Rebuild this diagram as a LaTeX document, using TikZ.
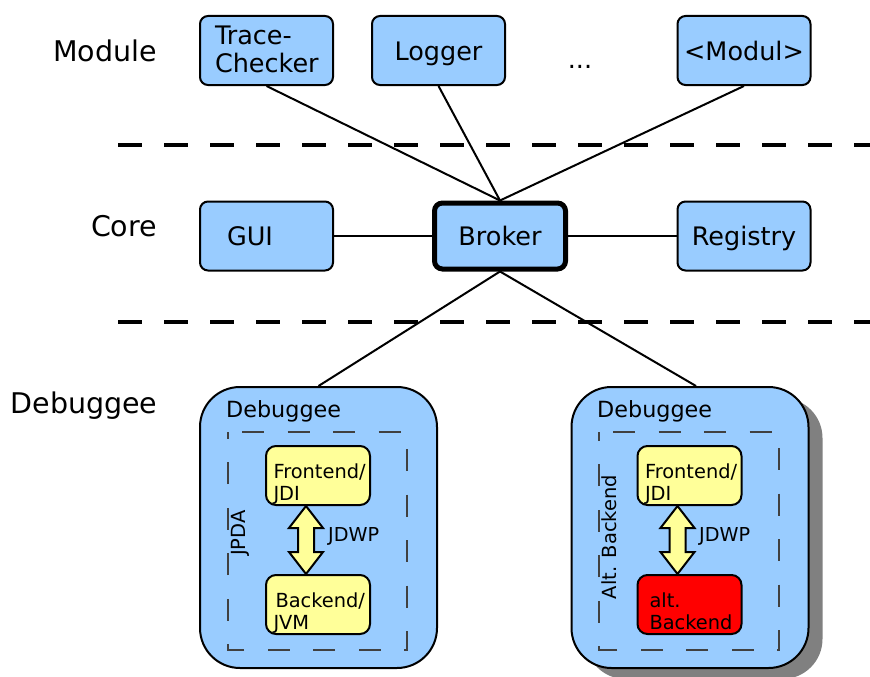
\documentclass[tikz,border=0pt]{standalone}
\usepackage{fontspec}
\setmainfont{DejaVu Sans}
\usetikzlibrary{shadows}
\definecolor{boxblue}{HTML}{99CCFF}
\definecolor{boxyellow}{HTML}{FFFF99}
\definecolor{boxred}{HTML}{FF0000}
\definecolor{shadowgray}{HTML}{808080}
\definecolor{dashgray}{HTML}{404040}

\begin{document}
\begin{tikzpicture}[x=1pt,y=-1pt,
  layerlabel/.style={font=\fontsize{28.5}{33}\selectfont, inner sep=0pt, anchor=base},
  layerrule/.style={line width=3.5pt, dash pattern=on 24pt off 22pt},
  comp/.style={draw=black, line width=2pt, fill=boxblue, rounded corners=8pt,
    minimum width=133pt, minimum height=69pt, inner sep=0pt,
    text height=19pt, text depth=0pt,
    font=\fontsize{25.5}{28}\selectfont},
  twoline/.style={text height=18pt, text depth=29pt, align=left},
  brokerbox/.style={comp, line width=5pt, minimum width=131pt, minimum height=66pt},
  conn/.style={line width=2pt},
  hostbox/.style={draw=black, line width=2pt, fill=boxblue, rounded corners=40pt,
    minimum width=237pt, minimum height=281pt, inner sep=0pt},
  hostshadow/.style={drop shadow={shadow xshift=14pt, shadow yshift=-11pt,
    fill=shadowgray, opacity=1}},
  hosttitle/.style={font=\fontsize{22.3}{26}\selectfont, inner sep=0pt, anchor=base west},
  groupframe/.style={draw=dashgray, line width=1.3pt,
    dash pattern=on 22pt off 23.5pt, dash phase=31.5pt},
  grouplabel/.style={font=\fontsize{19.5}{22}\selectfont, inner sep=0pt, rotate=90,
    text height=14pt, text depth=0pt},
  part/.style={draw=black, line width=2pt, rounded corners=10pt,
    minimum width=104pt, minimum height=59pt, inner sep=0pt,
    text width=89pt, align=left, text height=15pt, text depth=10pt,
    font=\fontsize{19.4}{22}\selectfont},
  bigarrow/.style={draw=black, line width=2pt, fill=boxyellow, line join=miter},
  protolabel/.style={font=\fontsize{19.2}{22}\selectfont, inner sep=0pt, anchor=base west}]

\useasboundingbox (0,0) rectangle (870,677);

% layer names
\node[layerlabel] (lmod)  at (105,62)  {Module};
\node[layerlabel] (lcore) at (124,236) {Core};
\node[layerlabel] (ldbg)  at (84,413)  {Debuggee};

% layer separators
\draw[layerrule] (118,145) -- (870,145);
\draw[layerrule] (118,322) -- (870,322);

% module layer
\node[comp, twoline, text width=103pt] (tc) at (266.5,50.5) {Trace-\\Checker};
\node[comp] (logger) at (438.5,50.5) {Logger};
\node[font=\fontsize{25.5}{28}\selectfont, inner sep=0pt, anchor=base] (dots) at (580,68) {...};
\node[comp] (modul) at (744,50.5) {<Modul>};

% core layer
\node[comp, text width=79pt, align=left] (gui) at (266.5,236) {GUI};
\node[brokerbox] (broker) at (500,236) {Broker};
\node[comp] (registry) at (744,236) {Registry};

% debuggee hosts
\node[hostbox] (dbg1) at (318.5,527.5) {};
\node[hostbox, hostshadow] (dbg2) at (690,527.5) {};

\node[hosttitle] (t1) at (226,417) {Debuggee};
\node[hosttitle] (t2) at (597,417) {Debuggee};

\draw[groupframe] (228,432) -- (407,432) -- (407,650) -- (228,650) -- cycle;
\draw[groupframe] (599,432) -- (779,432) -- (779,650) -- (599,650) -- cycle;

\node[grouplabel] (g1) at (238,533) {JPDA};
\node[grouplabel] (g2) at (609,537) {Alt. Backend};

\node[part, fill=boxyellow] (fe1) at (318,475.5) {\mbox{Frontend/}\\JDI};
\node[part, fill=boxyellow] (be1) at (318,604.5) {\mbox{\hspace*{2pt}Backend/}\\JVM};
\node[part, fill=boxyellow] (fe2) at (689.5,475.5) {\mbox{Frontend/}\\JDI};
\node[part, fill=boxred, text width=80pt] (be2) at (689.5,604.5) {alt.\\\mbox{Backend}};

% JDWP double arrows, set slightly left of the box centres
\foreach \f/\b in {fe1/be1, fe2/be2}{
  \filldraw[bigarrow] ([shift={(-12,0)}]\f.south)
    -- ([shift={(5,22)}]\f.south) -- ([shift={(-4,22)}]\f.south)
    -- ([shift={(-4,-22)}]\b.north) -- ([shift={(5,-22)}]\b.north)
    -- ([shift={(-12,0)}]\b.north)
    -- ([shift={(-29,-22)}]\b.north) -- ([shift={(-20,-22)}]\b.north)
    -- ([shift={(-20,22)}]\f.south) -- ([shift={(-29,22)}]\f.south)
    -- cycle;
}
\node[protolabel] (p1) at (328,541) {JDWP};
\node[protolabel] (p2) at (699,541) {JDWP};

% connectors
\draw[conn] (broker.north) -- (tc.south);
\draw[conn] (broker.north) -- (logger.south);
\draw[conn] (broker.north) -- (modul.south);
\draw[conn] (gui.east) -- (broker.west);
\draw[conn] (broker.east) -- (registry.west);
\draw[conn] (broker.south) -- (dbg1.north);
\draw[conn] (broker.south) -- ([xshift=6pt]dbg2.north);
\end{tikzpicture}
\end{document}
